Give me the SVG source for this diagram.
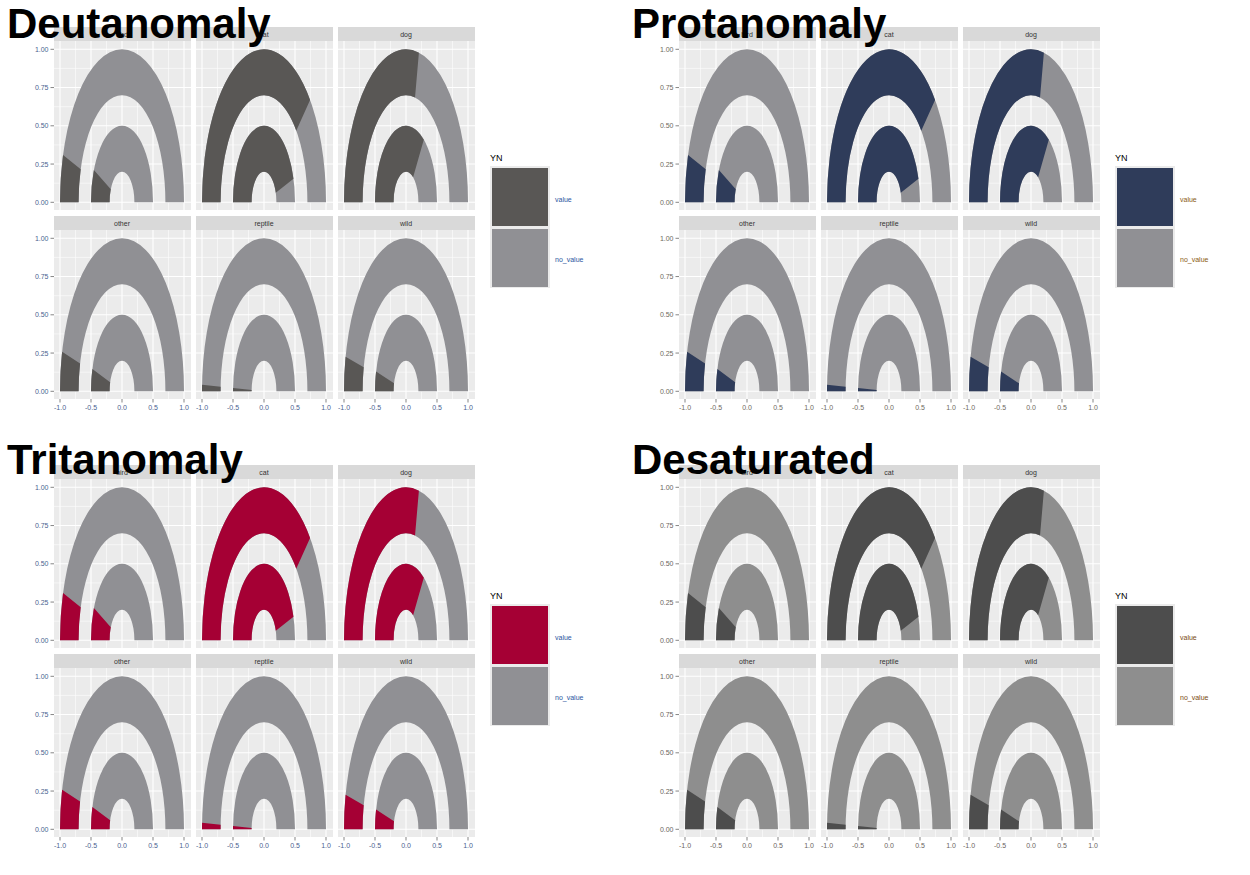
<svg xmlns="http://www.w3.org/2000/svg" xmlns:xlink="http://www.w3.org/1999/xlink" width="1250" height="875" viewBox="0 0 1250 875">
<style>
text{font-family:"Liberation Sans",Arial,sans-serif}
.title{font-size:42px;font-weight:bold;fill:#000}
.strip{font-size:7px;text-anchor:middle;fill:#333}
.ax{font-size:7px}
.ya{text-anchor:end}
.xa{text-anchor:middle}
.gmaj{stroke:#fff;stroke-width:1.1}
.gmin{stroke:#fff;stroke-width:0.55}
.tick{stroke:#333;stroke-width:0.6}
.leg{font-size:7px}
.yn{font-size:9px;fill:#000}
</style>
<defs>
<g id="P">
<rect x="-68" y="-175.3" width="137" height="14" fill="#d9d9d9"/>
<rect x="-68" y="-161.3" width="137" height="169" fill="#ebebeb"/>
<g class="gmin">
<line x1="-46.5" y1="-161.3" x2="-46.5" y2="7.7"/><line x1="-15.5" y1="-161.3" x2="-15.5" y2="7.7"/><line x1="15.5" y1="-161.3" x2="15.5" y2="7.7"/><line x1="46.5" y1="-161.3" x2="46.5" y2="7.7"/>
<line x1="-68" y1="-19.1" x2="69" y2="-19.1"/><line x1="-68" y1="-57.4" x2="69" y2="-57.4"/><line x1="-68" y1="-95.6" x2="69" y2="-95.6"/><line x1="-68" y1="-133.9" x2="69" y2="-133.9"/>
</g>
<g class="gmaj">
<line x1="-62" y1="-161.3" x2="-62" y2="7.7"/><line x1="-31" y1="-161.3" x2="-31" y2="7.7"/><line x1="0" y1="-161.3" x2="0" y2="7.7"/><line x1="31" y1="-161.3" x2="31" y2="7.7"/><line x1="62" y1="-161.3" x2="62" y2="7.7"/>
<line x1="-68" y1="0" x2="69" y2="0"/><line x1="-68" y1="-38.25" x2="69" y2="-38.25"/><line x1="-68" y1="-76.5" x2="69" y2="-76.5"/><line x1="-68" y1="-114.75" x2="69" y2="-114.75"/><line x1="-68" y1="-153" x2="69" y2="-153"/>
</g>
</g>
<path id="ring" d="M-1 0A1 1 0 0 0 1 0L0.7 0A0.7 0.7 0 0 1 -0.7 0ZM-0.5 0A0.5 0.5 0 0 0 0.5 0L0.2 0A0.2 0.2 0 0 1 -0.2 0Z"/>
<path id="s-bird" d="M-1 0A1 1 0 0 0 -0.9511 0.3090L-0.6657 0.2163A0.7 0.7 0 0 1 -0.7 0ZM-0.5 0A0.5 0.5 0 0 0 -0.4532 0.2113L-0.1813 0.0845A0.2 0.2 0 0 1 -0.2 0Z"/>
<path id="s-cat" d="M-1 0A1 1 0 0 0 0.7431 0.6691L0.5202 0.4684A0.7 0.7 0 0 1 -0.7 0ZM-0.5 0A0.5 0.5 0 0 0 0.4755 0.1545L0.1902 0.0618A0.2 0.2 0 0 1 -0.2 0Z"/>
<path id="s-dog" d="M-1 0A1 1 0 0 0 0.2079 0.9781L0.1455 0.6847A0.7 0.7 0 0 1 -0.7 0ZM-0.5 0A0.5 0.5 0 0 0 0.2868 0.4096L0.1147 0.1638A0.2 0.2 0 0 1 -0.2 0Z"/>
<path id="s-other" d="M-1 0A1 1 0 0 0 -0.9659 0.2588L-0.6761 0.1812A0.7 0.7 0 0 1 -0.7 0ZM-0.5 0A0.5 0.5 0 0 0 -0.4781 0.1462L-0.1913 0.0585A0.2 0.2 0 0 1 -0.2 0Z"/>
<path id="s-reptile" d="M-1 0A1 1 0 0 0 -0.9990 0.0436L-0.6993 0.0305A0.7 0.7 0 0 1 -0.7 0ZM-0.5 0A0.5 0.5 0 0 0 -0.4995 0.0218L-0.1998 0.0087A0.2 0.2 0 0 1 -0.2 0Z"/>
<path id="s-wild" d="M-1 0A1 1 0 0 0 -0.9744 0.2250L-0.6821 0.1575A0.7 0.7 0 0 1 -0.7 0ZM-0.5 0A0.5 0.5 0 0 0 -0.4830 0.1294L-0.1932 0.0518A0.2 0.2 0 0 1 -0.2 0Z"/>
<g id="yax">
<line class="tick" x1="50.5" y1="0" x2="54" y2="0"/><line class="tick" x1="50.5" y1="-38.25" x2="54" y2="-38.25"/><line class="tick" x1="50.5" y1="-76.5" x2="54" y2="-76.5"/><line class="tick" x1="50.5" y1="-114.75" x2="54" y2="-114.75"/><line class="tick" x1="50.5" y1="-153" x2="54" y2="-153"/>
<text class="ax ya" x="48.5" y="2.5">0.00</text><text class="ax ya" x="48.5" y="-35.75">0.25</text><text class="ax ya" x="48.5" y="-74">0.50</text><text class="ax ya" x="48.5" y="-112.25">0.75</text><text class="ax ya" x="48.5" y="-150.5">1.00</text>
</g>
<g id="xaxc">
<line class="tick" x1="-62" y1="399" x2="-62" y2="402.5"/><line class="tick" x1="-31" y1="399" x2="-31" y2="402.5"/><line class="tick" x1="0" y1="399" x2="0" y2="402.5"/><line class="tick" x1="31" y1="399" x2="31" y2="402.5"/><line class="tick" x1="62" y1="399" x2="62" y2="402.5"/>
<text class="ax xa" x="-62" y="410">-1.0</text><text class="ax xa" x="-31" y="410">-0.5</text><text class="ax xa" x="0" y="410">0.0</text><text class="ax xa" x="31" y="410">0.5</text><text class="ax xa" x="62" y="410">1.0</text>
</g>
<g id="axes">
<use xlink:href="#yax" transform="translate(0,202.3)"/><use xlink:href="#yax" transform="translate(0,391.3)"/>
<use xlink:href="#xaxc" transform="translate(122,0)"/><use xlink:href="#xaxc" transform="translate(264,0)"/><use xlink:href="#xaxc" transform="translate(406,0)"/>
</g>
<g id="legtxt">
<text class="yn" x="490" y="161">YN</text>
<rect x="490" y="166" width="60" height="122" fill="#ebebeb"/>
<text class="leg" x="555" y="202">value</text>
<text class="leg" x="555" y="262">no_value</text>
</g>
</defs>

<g id="deutanomaly">
<g id="deut-axes" fill="#4a5f8f"><use xlink:href="#axes"/></g>
<g id="deut-bird" transform="translate(122,202.3)"><use xlink:href="#P"/><text class="strip" y="-165.5">bird</text><g transform="scale(62,-153)"><use xlink:href="#ring" fill="#909094"/><use xlink:href="#s-bird" fill="#595755"/></g></g>
<g id="deut-cat" transform="translate(264,202.3)"><use xlink:href="#P"/><text class="strip" y="-165.5">cat</text><g transform="scale(62,-153)"><use xlink:href="#ring" fill="#909094"/><use xlink:href="#s-cat" fill="#595755"/></g></g>
<g id="deut-dog" transform="translate(406,202.3)"><use xlink:href="#P"/><text class="strip" y="-165.5">dog</text><g transform="scale(62,-153)"><use xlink:href="#ring" fill="#909094"/><use xlink:href="#s-dog" fill="#595755"/></g></g>
<g id="deut-other" transform="translate(122,391.3)"><use xlink:href="#P"/><text class="strip" y="-165.5">other</text><g transform="scale(62,-153)"><use xlink:href="#ring" fill="#909094"/><use xlink:href="#s-other" fill="#595755"/></g></g>
<g id="deut-reptile" transform="translate(264,391.3)"><use xlink:href="#P"/><text class="strip" y="-165.5">reptile</text><g transform="scale(62,-153)"><use xlink:href="#ring" fill="#909094"/><use xlink:href="#s-reptile" fill="#595755"/></g></g>
<g id="deut-wild" transform="translate(406,391.3)"><use xlink:href="#P"/><text class="strip" y="-165.5">wild</text><g transform="scale(62,-153)"><use xlink:href="#ring" fill="#909094"/><use xlink:href="#s-wild" fill="#595755"/></g></g>
<g id="deut-legend" fill="#2a55a0"><use xlink:href="#legtxt"/><rect x="492" y="168" width="56" height="58" fill="#595755"/><rect x="492" y="229" width="56" height="58" fill="#909094"/></g>
<text class="title" x="7" y="38">Deutanomaly</text>
</g>

<g id="protanomaly" transform="translate(625,0)">
<g id="prot-axes" fill="#6e6a60"><use xlink:href="#axes"/></g>
<g id="prot-bird" transform="translate(122,202.3)"><use xlink:href="#P"/><text class="strip" y="-165.5">bird</text><g transform="scale(62,-153)"><use xlink:href="#ring" fill="#909094"/><use xlink:href="#s-bird" fill="#2f3c5a"/></g></g>
<g id="prot-cat" transform="translate(264,202.3)"><use xlink:href="#P"/><text class="strip" y="-165.5">cat</text><g transform="scale(62,-153)"><use xlink:href="#ring" fill="#909094"/><use xlink:href="#s-cat" fill="#2f3c5a"/></g></g>
<g id="prot-dog" transform="translate(406,202.3)"><use xlink:href="#P"/><text class="strip" y="-165.5">dog</text><g transform="scale(62,-153)"><use xlink:href="#ring" fill="#909094"/><use xlink:href="#s-dog" fill="#2f3c5a"/></g></g>
<g id="prot-other" transform="translate(122,391.3)"><use xlink:href="#P"/><text class="strip" y="-165.5">other</text><g transform="scale(62,-153)"><use xlink:href="#ring" fill="#909094"/><use xlink:href="#s-other" fill="#2f3c5a"/></g></g>
<g id="prot-reptile" transform="translate(264,391.3)"><use xlink:href="#P"/><text class="strip" y="-165.5">reptile</text><g transform="scale(62,-153)"><use xlink:href="#ring" fill="#909094"/><use xlink:href="#s-reptile" fill="#2f3c5a"/></g></g>
<g id="prot-wild" transform="translate(406,391.3)"><use xlink:href="#P"/><text class="strip" y="-165.5">wild</text><g transform="scale(62,-153)"><use xlink:href="#ring" fill="#909094"/><use xlink:href="#s-wild" fill="#2f3c5a"/></g></g>
<g id="prot-legend" fill="#8a5a10"><use xlink:href="#legtxt"/><rect x="492" y="168" width="56" height="58" fill="#2f3c5a"/><rect x="492" y="229" width="56" height="58" fill="#909094"/></g>
<text class="title" x="7" y="38">Protanomaly</text>
</g>

<g id="tritanomaly" transform="translate(0,438)">
<g id="trit-axes" fill="#4a5f8f"><use xlink:href="#axes"/></g>
<g id="trit-bird" transform="translate(122,202.3)"><use xlink:href="#P"/><text class="strip" y="-165.5">bird</text><g transform="scale(62,-153)"><use xlink:href="#ring" fill="#909094"/><use xlink:href="#s-bird" fill="#a50034"/></g></g>
<g id="trit-cat" transform="translate(264,202.3)"><use xlink:href="#P"/><text class="strip" y="-165.5">cat</text><g transform="scale(62,-153)"><use xlink:href="#ring" fill="#909094"/><use xlink:href="#s-cat" fill="#a50034"/></g></g>
<g id="trit-dog" transform="translate(406,202.3)"><use xlink:href="#P"/><text class="strip" y="-165.5">dog</text><g transform="scale(62,-153)"><use xlink:href="#ring" fill="#909094"/><use xlink:href="#s-dog" fill="#a50034"/></g></g>
<g id="trit-other" transform="translate(122,391.3)"><use xlink:href="#P"/><text class="strip" y="-165.5">other</text><g transform="scale(62,-153)"><use xlink:href="#ring" fill="#909094"/><use xlink:href="#s-other" fill="#a50034"/></g></g>
<g id="trit-reptile" transform="translate(264,391.3)"><use xlink:href="#P"/><text class="strip" y="-165.5">reptile</text><g transform="scale(62,-153)"><use xlink:href="#ring" fill="#909094"/><use xlink:href="#s-reptile" fill="#a50034"/></g></g>
<g id="trit-wild" transform="translate(406,391.3)"><use xlink:href="#P"/><text class="strip" y="-165.5">wild</text><g transform="scale(62,-153)"><use xlink:href="#ring" fill="#909094"/><use xlink:href="#s-wild" fill="#a50034"/></g></g>
<g id="trit-legend" fill="#2a55a0"><use xlink:href="#legtxt"/><rect x="492" y="168" width="56" height="58" fill="#a50034"/><rect x="492" y="229" width="56" height="58" fill="#909094"/></g>
<text class="title" x="7" y="36">Tritanomaly</text>
</g>

<g id="desaturated" transform="translate(625,438)">
<g id="desat-axes" fill="#6a6460"><use xlink:href="#axes"/></g>
<g id="desat-bird" transform="translate(122,202.3)"><use xlink:href="#P"/><text class="strip" y="-165.5">bird</text><g transform="scale(62,-153)"><use xlink:href="#ring" fill="#8e8e8e"/><use xlink:href="#s-bird" fill="#4d4d4d"/></g></g>
<g id="desat-cat" transform="translate(264,202.3)"><use xlink:href="#P"/><text class="strip" y="-165.5">cat</text><g transform="scale(62,-153)"><use xlink:href="#ring" fill="#8e8e8e"/><use xlink:href="#s-cat" fill="#4d4d4d"/></g></g>
<g id="desat-dog" transform="translate(406,202.3)"><use xlink:href="#P"/><text class="strip" y="-165.5">dog</text><g transform="scale(62,-153)"><use xlink:href="#ring" fill="#8e8e8e"/><use xlink:href="#s-dog" fill="#4d4d4d"/></g></g>
<g id="desat-other" transform="translate(122,391.3)"><use xlink:href="#P"/><text class="strip" y="-165.5">other</text><g transform="scale(62,-153)"><use xlink:href="#ring" fill="#8e8e8e"/><use xlink:href="#s-other" fill="#4d4d4d"/></g></g>
<g id="desat-reptile" transform="translate(264,391.3)"><use xlink:href="#P"/><text class="strip" y="-165.5">reptile</text><g transform="scale(62,-153)"><use xlink:href="#ring" fill="#8e8e8e"/><use xlink:href="#s-reptile" fill="#4d4d4d"/></g></g>
<g id="desat-wild" transform="translate(406,391.3)"><use xlink:href="#P"/><text class="strip" y="-165.5">wild</text><g transform="scale(62,-153)"><use xlink:href="#ring" fill="#8e8e8e"/><use xlink:href="#s-wild" fill="#4d4d4d"/></g></g>
<g id="desat-legend" fill="#7a4a10"><use xlink:href="#legtxt"/><rect x="492" y="168" width="56" height="58" fill="#4d4d4d"/><rect x="492" y="229" width="56" height="58" fill="#8e8e8e"/></g>
<text class="title" x="7" y="36">Desaturated</text>
</g>
</svg>
